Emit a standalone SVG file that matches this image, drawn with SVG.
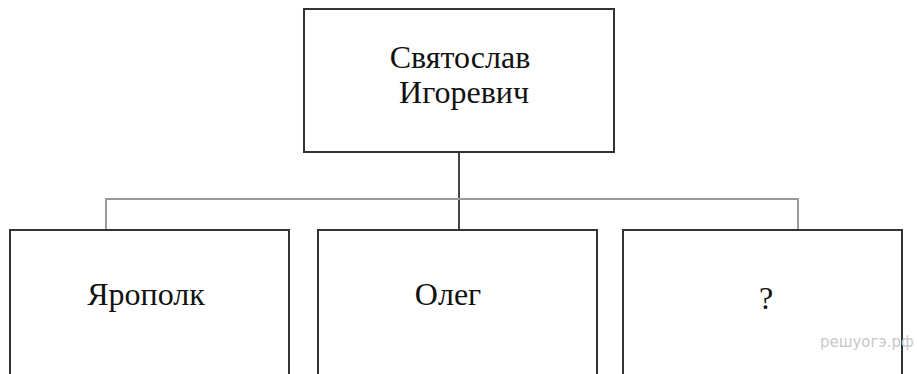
<svg xmlns="http://www.w3.org/2000/svg" width="917" height="374" viewBox="0 0 917 374">
<style>
.box{fill:#fff;stroke:#333;stroke-width:2}
.t{font-family:'Liberation Serif','Times New Roman',serif;font-size:32px;fill:#111;text-anchor:middle}
.wm{font-family:'DejaVu Sans','Liberation Sans',sans-serif;font-size:15px;fill:#c8c8c8}
</style>
<rect width="917" height="374" fill="#fff"/>
<g id="connectors" fill="none">
<line x1="459" y1="153" x2="459" y2="230" stroke="#444" stroke-width="2"/>
<polyline points="106,230 106,199 798,199 798,230" stroke="#9a9a9a" stroke-width="2"/>
</g>
<g id="node-svyatoslav">
<rect class="box" x="304" y="9" width="310" height="143"/>
<text class="t" x="460" y="68">Святослав</text>
<text class="t" x="464" y="103">Игоревич</text>
</g>
<g id="node-yaropolk">
<rect class="box" x="10" y="230" width="279" height="160"/>
<text class="t" x="146" y="305">Ярополк</text>
</g>
<g id="node-oleg">
<rect class="box" x="318" y="230" width="279" height="160"/>
<text class="t" x="448" y="305">Олег</text>
</g>
<g id="node-unknown">
<rect class="box" x="623" y="230" width="279" height="160"/>
<text class="t" x="766" y="309">?</text>
</g>
<text class="wm" x="820" y="347">решуогэ.рф</text>
</svg>
